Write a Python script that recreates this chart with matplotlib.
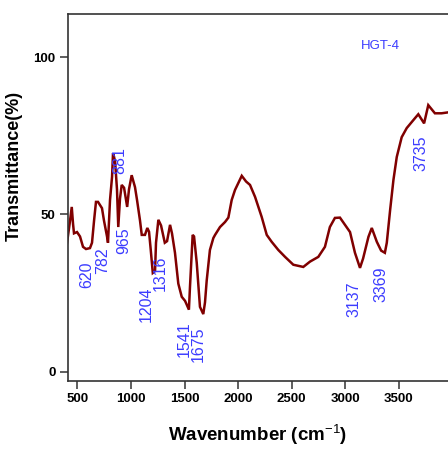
import matplotlib
matplotlib.use("Agg")
import matplotlib.pyplot as plt

plt.rcParams['font.family'] = ['Liberation Sans', 'DejaVu Sans']
plt.rcParams['mathtext.fontset'] = 'custom'
plt.rcParams['mathtext.rm'] = 'Liberation Sans'
plt.rcParams['mathtext.bf'] = 'Liberation Sans:bold'

# spectrum (wavenumber cm-1, transmittance %)
wavenumber = [400, 432, 448, 460, 469, 497, 525, 553, 581, 618, 637, 656, 674, 693, 730,
              749, 777, 786, 805, 824, 833, 852, 870, 882, 898, 914, 936, 965, 982, 1007,
              1038, 1057, 1085, 1101, 1131, 1153, 1169, 1185, 1204, 1225, 1234, 1256, 1281,
              1316, 1337, 1365, 1383, 1411, 1442, 1474, 1505, 1518, 1541, 1551, 1576, 1589,
              1614, 1644, 1675, 1691, 1707, 1737, 1769, 1785, 1831, 1878, 1909, 1940, 1971,
              2034, 2074, 2111, 2158, 2220, 2267, 2313, 2375, 2438, 2515, 2608, 2671, 2748,
              2810, 2856, 2903, 2950, 2997, 3044, 3090, 3137, 3166, 3216, 3247, 3294, 3334,
              3369, 3387, 3418, 3449, 3480, 3526, 3573, 3634, 3681, 3735, 3774, 3836, 3898,
              3960]
transmittance = [40, 48, 52.4, 47, 44, 44.4, 43, 39.7, 39, 39.3, 41, 48, 54, 54, 52,
                 48, 43, 41, 54.6, 62, 69.5, 67, 58, 46, 55, 59.4, 58.5, 52.4, 58, 62.5,
                 58.7, 54.6, 48, 43.5, 43.5, 45.7, 44.5, 38.7, 31.4, 32, 41, 48.3, 46.5,
                 41, 41.5, 46.7, 44, 37.8, 28, 23.8, 22.5, 21.5, 19.7, 27, 43.5, 43,
                 34.6, 20.6, 18.3, 22, 29, 38.7, 42.5, 43.5, 46, 47.6, 49, 54.6, 57.8,
                 62.3, 60.5, 59.4, 55.6, 49.2, 43.5, 41.3, 38.7, 36.5, 34, 33.3, 35, 36.5,
                 39.7, 46, 48.9, 49, 46.7, 44.4, 37.8, 33, 36, 42.9, 45.7, 41.3, 38.5,
                 37.8, 41, 51.4, 61, 68.3, 74.6, 77.5, 80, 81.9, 79, 84.8, 82.2, 82.2,
                 82.5]

# peak labels: text, x position, top of text (transmittance)
peak_labels = ['620', '782', '881', '965', '1204', '1316', '1541', '1675', '3137', '3369', '3735']
peak_label_x = [590, 740, 898, 933, 1141, 1276, 1493, 1626, 3081, 3330, 3704]
peak_label_top = [34.9, 39.4, 71.4, 46, 27, 37, 15.9, 14.3, 28.6, 33.3, 75.2]

x_ticks = [500, 1000, 1500, 2000, 2500, 3000, 3500]
y_ticks = [0, 50, 100]

fig = plt.figure(figsize=(4.48, 4.51), dpi=100)
ax = fig.add_axes([68/448, 1 - 381/451, 1 - 68/448, (381 - 14)/451])

ax.plot(wavenumber, transmittance, color='#800000', lw=1.8, solid_joinstyle='miter')

for t, x, y in zip(peak_labels, peak_label_x, peak_label_top):
    ax.text(x, y, t, rotation=90, ha='center', va='top', color='#3c3cff', fontsize=11.5)

ax.text(3324, 103.6, 'HGT-4', ha='center', va='center', color='#3c3cff', fontsize=9.5)

ax.set_xlim(413, 3958)
ax.set_ylim(-3.0, 113.8)
ax.set_xticks(x_ticks)
ax.set_yticks(y_ticks)
ax.tick_params(direction='out', length=6, width=1.1, color='#333333', labelsize=9.5, pad=3)
for lab in ax.get_xticklabels() + ax.get_yticklabels():
    lab.set_fontweight('bold')

for s in ['left', 'top', 'bottom']:
    ax.spines[s].set_linewidth(1.2)
    ax.spines[s].set_color('#333333')
ax.spines['right'].set_visible(False)

ax.set_xlabel('Wavenumber (cm$^{\\mathrm{-1}}$)', fontsize=13.5, fontweight='bold', labelpad=12)
ax.set_ylabel('Transmittance(%)', fontsize=13, fontweight='bold')
ax.yaxis.set_label_coords(-0.12, 0.586)

fig.savefig('out.png', dpi=100)
